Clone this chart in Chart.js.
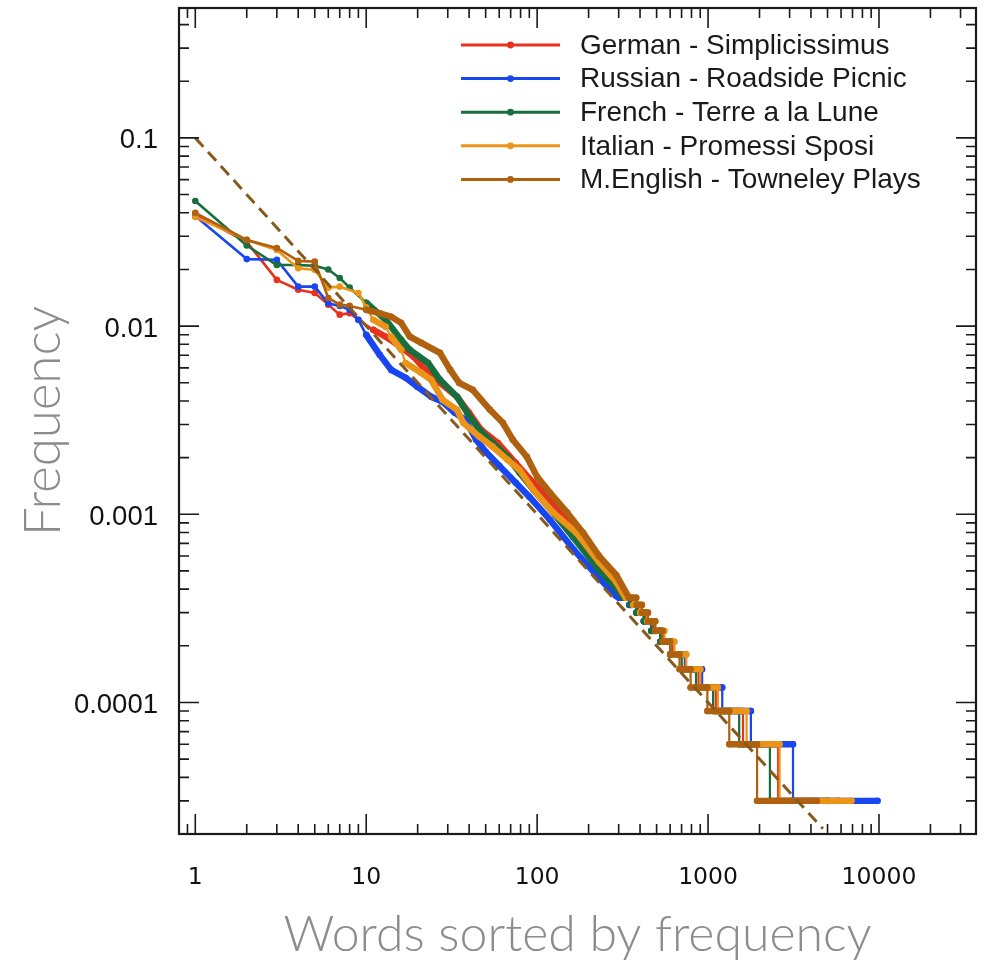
<!DOCTYPE html>
<html><head><meta charset="utf-8">
<script src="https://cdn.jsdelivr.net/npm/chart.js@4"></script>
<style>html,body{margin:0;padding:0;background:#fff;}canvas{display:block;}</style>
</head><body>
<canvas id="c" width="984" height="961"></canvas>
<script>
// ---------- data ----------
const seriesNames = ['German - Simplicissimus','Russian - Roadside Picnic','French - Terre a la Lune','Italian - Promessi Sposi','M.English - Towneley Plays'];
const seriesColors = ['#e8321e','#1846f0','#186e3c','#ec9418','#b0610f'];

const germanRanks = [1,2,3,4,5,6,7,8,9,11,13,16,19,23,27,34,40,47,59,75,95,119,136,150,230,290,
  325,355,356,390,391,430,431,480,481,540,541,620,621,730,731,880,881,1110,1111,1600,1601,2570,2571,5800];
const germanFreq = [0.039,0.028,0.0176,0.0156,0.0150,0.0130,0.0115,0.0117,0.0108,0.00955,0.00877,0.00775,0.00686,0.00564,0.00499,0.00421,0.00346,0.00281,0.00239,0.00187,0.00147,0.00119,0.00105,0.000968,0.000538,0.000427,
  0.00036,0.00036,0.00033,0.00033,0.0003,0.0003,0.00027,0.00027,0.00024,0.00024,0.00021,0.00021,0.00018,0.00018,0.00015,0.00015,0.00012,0.00012,0.00009,0.00009,0.00006,0.00006,0.00003,0.00003];

const russianRanks = [1,2,3,4,5,6,7,8,9,10,12,14,17,20,24,28,33,38,44,50,60,75,90,119,164,236,290,
  300,345,346,380,381,420,421,465,466,525,526,600,601,735,736,922,923,1210,1211,1780,1781,3140,3141,9800];
const russianFreq = [0.0385,0.0227,0.0225,0.0162,0.0162,0.0132,0.0128,0.0122,0.0108,0.00898,0.00703,0.00585,0.00531,0.00475,0.00421,0.00396,0.00346,0.00318,0.00249,0.00215,0.00181,0.00147,0.00124,0.000933,0.000647,0.000448,0.000368,
  0.00036,0.00036,0.00033,0.00033,0.0003,0.0003,0.00027,0.00027,0.00024,0.00024,0.00021,0.00021,0.00018,0.00018,0.00015,0.00015,0.00012,0.00012,0.00009,0.00009,0.00006,0.00006,0.00003,0.00003];

const frenchRanks = [1,2,3,4,5,6,7,8,10,13,16,18,23,27,34,39,46,55,67,79,95,124,162,230,290,
  320,350,351,380,381,420,421,465,466,525,526,600,601,700,701,850,851,1070,1071,1520,1521,2300,2301,5000];
const frenchFreq = [0.0462,0.0268,0.0211,0.0211,0.0209,0.0200,0.0180,0.0160,0.0133,0.0108,0.00845,0.00748,0.00637,0.00518,0.00421,0.00346,0.00281,0.00239,0.00202,0.00166,0.00135,0.00102,0.000758,0.000507,0.000406,
  0.00036,0.00036,0.00033,0.00033,0.0003,0.0003,0.00027,0.00027,0.00024,0.00024,0.00021,0.00021,0.00018,0.00018,0.00015,0.00015,0.00012,0.00012,0.00009,0.00009,0.00006,0.00006,0.00003,0.00003];

const italianRanks = [1,2,3,4,5,6,7,9,10,11,13,14,16,17,21,24,28,34,37,46,55,67,79,95,124,170,230,290,
  330,365,366,400,401,440,441,490,491,555,556,635,636,745,746,900,901,1140,1141,1680,1681,2620,2621,6900];
const italianFreq = [0.038,0.0287,0.0254,0.0203,0.0199,0.0160,0.0162,0.0150,0.0126,0.0108,0.00991,0.00877,0.00748,0.00637,0.00564,0.00518,0.00405,0.00359,0.00306,0.00258,0.00228,0.00195,0.00172,0.00135,0.00102,0.000796,0.000558,0.000438,
  0.00036,0.00036,0.00033,0.00033,0.0003,0.0003,0.00027,0.00027,0.00024,0.00024,0.00021,0.00021,0.00018,0.00018,0.00015,0.00015,0.00012,0.00012,0.00009,0.00009,0.00006,0.00006,0.00003,0.00003];

const englishRanks = [1,2,3,4,5,6,7,8,10,12,14,16,18,21,27,31,35,42,53,63,72,87,100,119,150,186,230,290,
  345,380,381,410,411,445,446,490,491,540,541,600,601,680,681,790,791,990,991,1330,1331,1935,1936,4330];
const englishFreq = [0.040,0.0287,0.026,0.0222,0.0220,0.0141,0.0130,0.0128,0.0122,0.0117,0.0112,0.0104,0.00879,0.00814,0.00721,0.00585,0.00499,0.00458,0.00359,0.00306,0.00249,0.00202,0.00158,0.00130,0.00102,0.000796,0.000601,0.000476,
  0.00036,0.00036,0.00033,0.00033,0.0003,0.0003,0.00027,0.00027,0.00024,0.00024,0.00021,0.00021,0.00018,0.00018,0.00015,0.00015,0.00012,0.00012,0.00009,0.00009,0.00006,0.00006,0.00003,0.00003];

const zipfRanks = [1, 4700];
const zipfFreq = [0.1, 0.0000213];

const xTickLabels = ['1','10','100','1000','10000'];
const yTickLabels = ['0.1','0.01','0.001','0.0001'];
const xTitle = 'Words sorted by frequency';
const yTitle = 'Frequency';

// ---------- build ----------
const allRanks = [germanRanks, russianRanks, frenchRanks, italianRanks, englishRanks];
const allFreq = [germanFreq, russianFreq, frenchFreq, italianFreq, englishFreq];
const pts = (xs, ys) => xs.map((r, i) => ({x: r, y: ys[i]}));

function segWidth(ctx) {
  const x0 = ctx.p0.parsed.x, x1 = ctx.p1.parsed.x;
  if (x0 < 10) return 2.6;
  if (x1 - x0 <= 1) return 2.2;
  return 6.4;
}

const datasets = seriesNames.map((name, i) => ({
  label: name,
  inLegend: true,
  data: pts(allRanks[i], allFreq[i]),
  borderColor: seriesColors[i],
  backgroundColor: seriesColors[i],
  pointBackgroundColor: seriesColors[i],
  pointBorderWidth: 0,
  pointRadius: 3.3,
  borderWidth: 2.6,
  borderJoinStyle: 'round',
  borderCapStyle: 'round',
  showLine: true,
  tension: 0,
  order: 5 - i,
  segment: { borderWidth: segWidth }
}));
datasets.push({
  label: 'Zipf',
  inLegend: false,
  data: pts(zipfRanks, zipfFreq),
  borderColor: '#875a1c',
  borderWidth: 3,
  borderDash: [12, 7],
  pointRadius: 0,
  showLine: true,
  order: 0
});

function decadeLabel(v) {
  const l = Math.log10(v), e = Math.round(l);
  if (Math.abs(l - e) > 1e-6) return '';
  return e < 0 ? Math.pow(10, e).toFixed(-e) : String(Math.pow(10, e));
}

function noPad(s) { s.paddingLeft = 0; s.paddingRight = 0; s.paddingTop = 0; s.paddingBottom = 0; }

const frameTicks = {
  id: 'frameTicks',
  afterDatasetsDraw(chart) {
    const {ctx, chartArea: a, scales: {x, y}} = chart;
    ctx.save();
    ctx.strokeStyle = '#1a1a1a';
    ctx.lineWidth = 1.6;
    ctx.beginPath();
    for (let e = -2; e <= 5; e++) for (let m = 1; m <= 9; m++) {
      const v = m * Math.pow(10, e);
      if (v < x.min || v > x.max) continue;
      const px = x.getPixelForValue(v);
      const len = m === 1 ? 20 : 10;
      ctx.moveTo(px, a.bottom); ctx.lineTo(px, a.bottom - len);
      ctx.moveTo(px, a.top); ctx.lineTo(px, a.top + len);
    }
    for (let e = -6; e <= 0; e++) for (let m = 1; m <= 9; m++) {
      const v = m * Math.pow(10, e);
      if (v < y.min || v > y.max) continue;
      const py = y.getPixelForValue(v);
      const len = m === 1 ? 20 : 10;
      ctx.moveTo(a.left, py); ctx.lineTo(a.left + len, py);
      ctx.moveTo(a.right, py); ctx.lineTo(a.right - len, py);
    }
    ctx.stroke();
    ctx.lineWidth = 2.2;
    ctx.strokeRect(a.left, a.top, a.right - a.left, a.bottom - a.top);
    ctx.restore();
  },
  afterDraw(chart) {
    const {ctx, chartArea: a} = chart;
    const items = chart.data.datasets.filter(d => d.inLegend);
    ctx.save();
    ctx.font = '28px "Liberation Sans", Arial, sans-serif';
    ctx.textBaseline = 'middle';
    ctx.textAlign = 'left';
    items.forEach((d, i) => {
      const yy = a.top + 37 + i * 33.6;
      ctx.strokeStyle = d.borderColor;
      ctx.lineWidth = 3;
      ctx.beginPath();
      ctx.moveTo(a.left + 282, yy); ctx.lineTo(a.left + 381, yy);
      ctx.stroke();
      ctx.fillStyle = d.borderColor;
      ctx.beginPath();
      ctx.arc(a.left + 331.5, yy, 3.4, 0, Math.PI * 2);
      ctx.fill();
      ctx.fillStyle = '#1a1a1a';
      ctx.fillText(d.label, a.left + 401, yy + 1);
    });
    ctx.restore();
  }
};

new Chart(document.getElementById('c'), {
  type: 'scatter',
  data: { datasets },
  options: {
    responsive: false,
    devicePixelRatio: 1,
    animation: false,
    layout: { padding: { top: 8, right: 8, left: 0, bottom: 0 } },
    plugins: { legend: { display: false }, tooltip: { enabled: false } },
    elements: { line: { tension: 0 } },
    scales: {
      x: {
        type: 'logarithmic',
        position: 'bottom',
        min: 0.803,
        max: 36950,
        grid: { display: false, drawTicks: false },
        border: { display: false },
        ticks: {
          autoSkip: false,
          maxRotation: 0,
          padding: 30,
          color: '#111',
          font: { family: '"DejaVu Sans", sans-serif', size: 23.5 },
          callback: v => { const s = decadeLabel(v); return xTickLabels.includes(s) ? s : ''; }
        },
        title: {
          display: true,
          text: xTitle,
          color: '#8c8c8c',
          font: { family: 'Lato, sans-serif', size: 50, weight: 300, lineHeight: 1.0 },
          padding: { top: 0, bottom: 1 }
        },
        afterFit: s => { s.height = 127; noPad(s); }
      },
      y: {
        type: 'logarithmic',
        position: 'left',
        min: 0.00002,
        max: 0.49,
        grid: { display: false, drawTicks: false },
        border: { display: false },
        ticks: {
          autoSkip: false,
          padding: 21,
          labelOffset: 3,
          color: '#111',
          font: { family: '"Liberation Sans", Arial, sans-serif', size: 27.5 },
          callback: v => { const s = decadeLabel(v); return yTickLabels.includes(s) ? s : ''; }
        },
        title: {
          display: true,
          text: yTitle,
          color: '#8c8c8c',
          font: { family: 'Lato, sans-serif', size: 51, weight: 300, lineHeight: 1.0 },
          padding: { top: 18, bottom: 0 }
        },
        afterFit: s => { s.width = 179; noPad(s); }
      }
    }
  },
  plugins: [frameTicks]
});
</script>
</body></html>
